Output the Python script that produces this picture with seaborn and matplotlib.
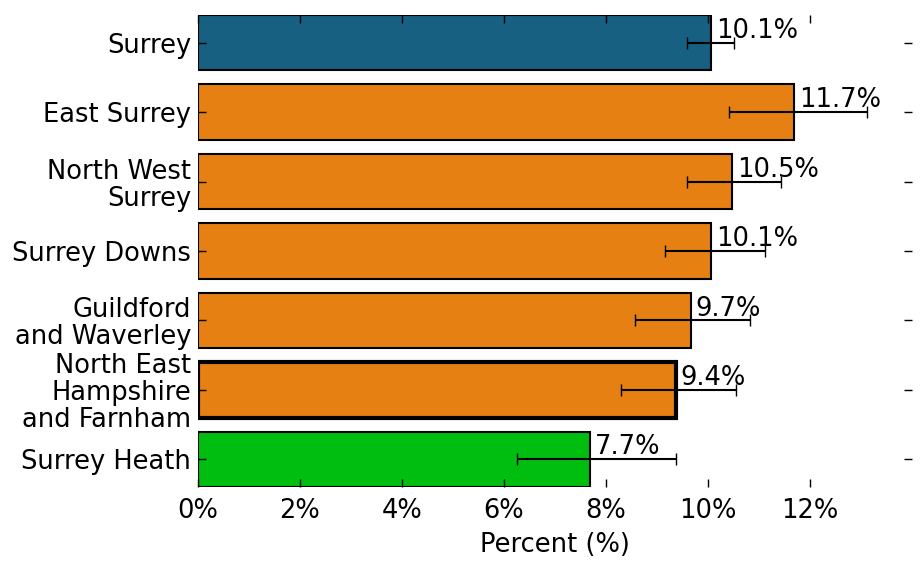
import numpy as np
import pandas as pd
import seaborn as sns
import matplotlib
matplotlib.use("Agg")
import matplotlib.pyplot as plt
from matplotlib.ticker import FuncFormatter

# data
areas = ["Surrey", "East Surrey", "North West\nSurrey", "Surrey Downs",
         "Guildford\nand Waverley", "North East\nHampshire\nand Farnham",
         "Surrey Heath"]
percent = [10.06, 11.69, 10.48, 10.07, 9.66, 9.37, 7.68]
ci_low = [9.60, 10.42, 9.60, 9.15, 8.58, 8.29, 6.26]
ci_high = [10.51, 13.12, 11.43, 11.12, 10.83, 10.56, 9.38]
bar_colours = ["#176082", "#e68012", "#e68012", "#e68012",
               "#e68012", "#e68012", "#00be0f"]
highlight = "North East\nHampshire\nand Farnham"

df = pd.DataFrame({"area": areas, "percent": percent})

sns.set_style("white")
plt.rcParams["font.family"] = ["DejaVu Sans"]
plt.rcParams["font.size"] = 18.5
for k in ["text.color", "axes.labelcolor", "xtick.color", "ytick.color"]:
    plt.rcParams[k] = "black"

fig = plt.figure(figsize=(9.21, 5.73), dpi=100)
ax = fig.add_axes([0.215, 0.150, 0.775, 0.824])

sns.barplot(data=df, x="percent", y="area", hue="area", palette=bar_colours,
            saturation=1, legend=False, errorbar=None, width=0.8, orient="h",
            ax=ax, edgecolor="black", linewidth=1.5)

for patch, name in zip(ax.patches, areas):
    if name == highlight:
        patch.set_linewidth(3)

ypos = np.arange(len(areas))
err = [np.array(percent) - np.array(ci_low), np.array(ci_high) - np.array(percent)]
ax.errorbar(percent, ypos, xerr=err, fmt="none", ecolor="black",
            elinewidth=1.5, capsize=4.5, capthick=1, zorder=5)

for y, v in zip(ypos, percent):
    ax.text(v + 0.1, y - 0.07, f"{v:.1f}%", ha="left", va="baseline",
            fontsize=18.5, zorder=6)

ax.set_xlim(0, 14)
ax.set_ylim(6.4, -0.4)
ax.set_xticks(np.arange(0, 13, 2))
ax.xaxis.set_major_formatter(FuncFormatter(lambda v, p: f"{v:.0f}%"))
ax.set_xlabel("Percent (%)", fontsize=18.5, labelpad=6)
ax.set_ylabel("")
for s in ax.spines.values():
    s.set_visible(False)
ax.tick_params(axis="both", which="major", direction="in", length=6,
               width=1, color="black", top=True, right=True,
               bottom=True, left=True, labelsize=18.5, pad=8)
ax.tick_params(axis="y", pad=5)
for lab in ax.get_yticklabels():
    lab.set_linespacing(1.05)
ax.set_axisbelow(False)

fig.savefig("out.png", dpi=100)
